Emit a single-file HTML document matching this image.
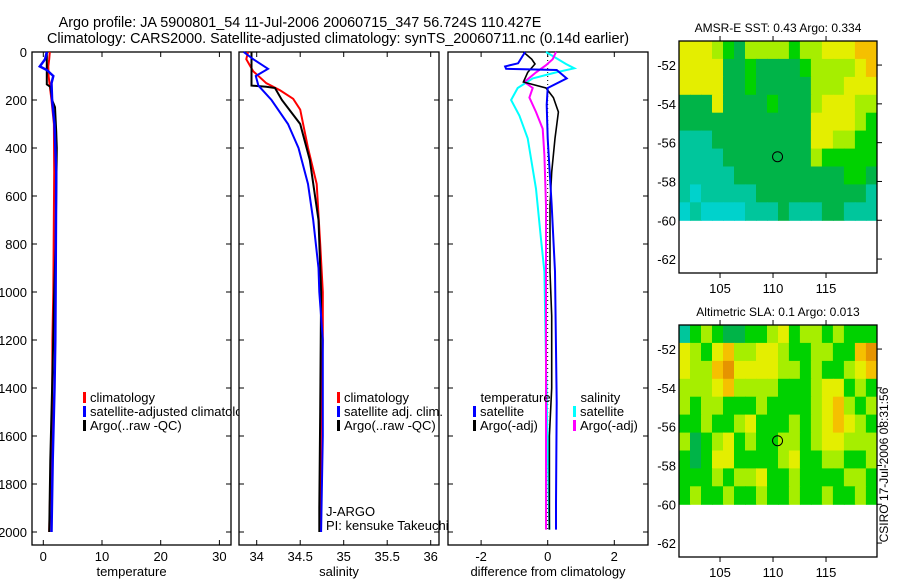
<!DOCTYPE html>
<html><head><meta charset="utf-8"><style>
body{margin:0;background:#fff}
svg{display:block;font-family:"Liberation Sans",sans-serif}
</style></head><body>
<svg id="c" width="900" height="580" viewBox="0 0 900 580">
<defs><clipPath id="clipT"><rect x="0" y="0" width="239" height="580"/></clipPath></defs>
<text x="300" y="27" font-size="14.4" text-anchor="middle">Argo profile: JA 5900801_54 11-Jul-2006 20060715_347 56.724S 110.427E</text>
<text x="338" y="43" font-size="14.4" text-anchor="middle">Climatology: CARS2000. Satellite-adjusted climatology: synTS_20060711.nc (0.14d earlier)</text>
<text x="888" y="465" font-size="12" text-anchor="middle" transform="rotate(-90 888 465)">CSIRO 17-Jul-2006 08:31:56</text>
</svg>
<script>
// ---- profile data ----
const tClimD=[0,30,60,100,200,300,500,1000,1200,1500,2000];
const tClimV=[1.1,1.0,0.85,0.9,1.4,1.8,1.85,1.7,1.55,1.5,1.0];
const tSatD=[0,30,60,75,100,130,200,300,500,1000,1200,1400,1700,2000];
const tSatV=[0.6,0.3,-0.6,0.6,1.7,1.4,1.5,1.9,2.2,2.1,2.05,1.9,1.6,1.4];
const tArgD=[0,135,145,200,230,330,400,800,1000,1300,1500,1700,2000];
const tArgV=[0.6,0.6,1.2,1.5,2.0,2.2,2.3,2.1,1.85,1.6,1.4,1.2,1.0];
const sClimD=[0,30,80,130,160,195,240,400,550,800,1000,1200,1500,2000];
const sClimV=[33.90,33.88,33.96,34.11,34.27,34.42,34.50,34.59,34.69,34.73,34.76,34.76,34.74,34.73];
const sSatD=[0,30,70,100,140,200,300,400,550,700,900,1000,1200,1600,2000];
const sSatV=[33.85,33.96,34.13,33.99,34.02,34.17,34.36,34.48,34.59,34.65,34.71,34.72,34.76,34.76,34.74];
const sArgD=[0,140,145,150,200,300,450,700,1000,1500,1900,2000];
const sArgV=[33.94,33.94,34.11,34.21,34.29,34.50,34.61,34.71,34.74,34.73,34.72,34.72];
const dTSatD=[0,47,60,70,75,110,150,220,360,640,915,1460,1880,1990];
const dTSatV=[-0.68,-0.89,-1.28,-1.25,0.27,0.57,0.0,-0.03,0.0,0.12,0.22,0.27,0.25,0.25];
const dTArgD=[0,30,50,85,125,150,190,250,360,500,640,915,1100,1400,1600,1990];
const dTArgV=[-0.73,-0.48,-0.38,-0.6,-0.73,-0.05,0.17,0.32,0.22,0.12,0.07,0.07,0.12,0.12,0.05,0.05];
const dSSatD=[0,50,68,85,110,150,200,265,360,570,780,915,1300,1990];
const dSSatV=[-0.05,0.55,0.8,0.25,-0.45,-0.9,-1.1,-0.85,-0.6,-0.35,-0.2,-0.1,-0.05,0.05];
const dSArgD=[0,30,55,85,125,150,190,250,320,430,640,1990];
const dSArgV=[0.25,0.15,-0.05,-0.35,-0.7,-0.45,-0.55,-0.35,-0.15,-0.1,-0.05,-0.05];
const depthTicks=[0,200,400,600,800,1000,1200,1400,1600,1800,2000];
const tTicks=[0,10,20,30];
const sTicks=[34,34.5,35,35.5,36];
const sTickLabels=["34","34.5","35","35.5","36"];
const dTicks=[-2,0,2];
// ---- map data ----
const lonTicks=[105,110,115];
const latTicks=[-52,-54,-56,-58,-60,-62];
const sstGrid=[
"555432444434455566","555522322223444456","555522322222444555","222522223222455544",
"222222222222555543","111222222222554433","111122222222433333","111112222222222332",
"101111122222222221","010000111211122111"];
const slaGrid=[
"134322334534434333","543564455433443367","544675555443433456","444564444333455343",
"434433343333456434","334334533343456543","423453433443455444","323553333453344334",
"333434453343333443","343343343343343343"];
const palette=['#00d2cc','#00c69c','#00b448','#00d200','#a6ee00','#e4ee00','#f5c000','#e69400'];
const argoLon=110.427, argoLat=-56.724;

const svg=document.getElementById('c');
const NS='http://www.w3.org/2000/svg';
function mk(tag,attrs,parent){const e=document.createElementNS(NS,tag);for(const k in attrs)e.setAttribute(k,attrs[k]);(parent||svg).appendChild(e);return e;}
const yD=d=>52+d*0.24;
const panels=[
 {x0:32,x1:231,x:v=>43.3+v*5.87,ticks:tTicks,labels:tTicks.map(String),title:'temperature',name:'temperature'},
 {x0:239,x1:439,x:v=>256.7+(v-34)*87,ticks:sTicks,labels:sTickLabels,title:'salinity',name:'salinity'},
 {x0:448,x1:648,x:v=>547.7+v*33.3,ticks:dTicks,labels:dTicks.map(String),title:'difference from climatology',name:'difference'}
];
const pTop=52,pBot=545;
panels.forEach((p,i)=>{
  const g=mk('g',{});
  
  
  const r=mk('rect',{x:p.x0,y:pTop,width:p.x1-p.x0,height:pBot-pTop,fill:'none',stroke:'#000','stroke-width':1.3},g);
  
  
  p.ticks.forEach((t,j)=>{
    const x=p.x(t);
    mk('line',{x1:x,x2:x,y1:pTop,y2:pTop+5,stroke:'#000'},g);
    mk('line',{x1:x,x2:x,y1:pBot,y2:pBot-5,stroke:'#000'},g);
    const tx=mk('text',{x:x,y:pBot+16,'font-size':13,'text-anchor':'middle'},g);
    tx.textContent=p.labels[j];
    
    
  });
  depthTicks.forEach(d=>{
    const y=yD(d);
    mk('line',{x1:p.x0,x2:p.x0+5,y1:y,y2:y,stroke:'#000'},g);
    mk('line',{x1:p.x1,x2:p.x1-5,y1:y,y2:y,stroke:'#000'},g);
    if(i===0){const tx=mk('text',{x:27,y:y+5,'font-size':13,'text-anchor':'end'},g);tx.textContent=String(d);
      
      }
  });
  const tt=mk('text',{x:(p.x0+p.x1)/2,y:pBot+31,'font-size':13,'text-anchor':'middle'},g);
  tt.textContent=p.title;
  
  
});
function line(p,D,V,color,w,name){
  const pts=D.map((d,k)=>p.x(V[k]).toFixed(1)+','+yD(d).toFixed(1)).join(' ');
  const e=mk('polyline',{points:pts,fill:'none',stroke:color,'stroke-width':w});
  
  
}
mk('line',{x1:panels[2].x(0),x2:panels[2].x(0),y1:yD(0),y2:yD(2000),stroke:'#000','stroke-dasharray':'1,3'});
line(panels[0],tClimD,tClimV,'#f00',2,'temp-climatology-line');
line(panels[0],tArgD,tArgV,'#000',2,'temp-argo-line');
line(panels[0],tSatD,tSatV,'#00f',2.5,'temp-satellite-line');
line(panels[1],sClimD,sClimV,'#f00',2,'sal-climatology-line');
line(panels[1],sArgD,sArgV,'#000',2,'sal-argo-line');
line(panels[1],sSatD,sSatV,'#00f',2,'sal-satellite-line');
line(panels[2],dSSatD,dSSatV,'#0ff',2,'diff-sal-satellite-line');
line(panels[2],dSArgD,dSArgV,'#f0f',2,'diff-sal-argo-line');
line(panels[2],dTArgD,dTArgV,'#000',1.6,'diff-temp-argo-line');
line(panels[2],dTSatD,dTSatV,'#00f',2,'diff-temp-satellite-line');
// legends
function leg(x,y,color,text,name,clip){
  if(color){const m=mk('rect',{x:x,y:y-10,width:3,height:11,fill:color});
    
    }
  const t=mk('text',{x:x+7,y:y,'font-size':13});t.textContent=text;
  if(clip)t.setAttribute('clip-path','url(#clipT)');
  
  
}
leg(83,402,'#f00','climatology','legend-temp-climatology');
leg(83,416,'#00f','satellite-adjusted climatology','legend-temp-satellite',true);
leg(83,430,'#000','Argo(..raw -QC)','legend-temp-argo');
leg(337,402,'#f00','climatology','legend-sal-climatology');
leg(337,416,'#00f','satellite adj. clim.','legend-sal-satellite');
leg(337,430,'#000','Argo(..raw -QC)','legend-sal-argo');
leg(473.5,402,null,'temperature','legend-diff-temp-header');
leg(473,416,'#00f','satellite','legend-diff-temp-satellite');
leg(473,430,'#000','Argo(-adj)','legend-diff-temp-argo');
leg(573.5,402,null,'salinity','legend-diff-sal-header');
leg(573,416,'#0ff','satellite','legend-diff-sal-satellite');
leg(573,430,'#f0f','Argo(-adj)','legend-diff-sal-argo');
leg(319,516,null,'J-ARGO','float-program-label');
leg(319,530,null,'PI: kensuke Takeuchi','float-pi-label');
// maps
const mX=lon=>679+(lon-101.13)*10.6;
function drawMap(y0,grid,title,name){
  const yL=lat=>y0+(-50.76-lat)*19.4;
  const g=mk('g',{});
  
  
  const rows=grid.length,cols=grid[0].length;
  const dLon=(119.8-101.13)/cols,dLat=(60-50.76)/rows;
  for(let r=0;r<rows;r++)for(let c=0;c<cols;c++){
    const lon=101.13+c*dLon,lat=-50.76-r*dLat;
    const x=mX(lon),y=yL(lat);
    const cell=mk('rect',{x:x.toFixed(1),y:y.toFixed(1),width:(mX(lon+dLon)-x+0.6).toFixed(1),height:(yL(lat-dLat)-y+0.6).toFixed(1),fill:palette[+grid[r][c]]},g);
    
    
  }
  mk('rect',{x:679,y:y0,width:198,height:232,fill:'none',stroke:'#000','stroke-width':1.3},g);
  lonTicks.forEach(l=>{const x=mX(l);
    mk('line',{x1:x,x2:x,y1:y0,y2:y0-5,stroke:'#000'},g);
    mk('line',{x1:x,x2:x,y1:y0+232,y2:y0+237,stroke:'#000'},g);
    const t=mk('text',{x:x,y:y0+252,'font-size':13,'text-anchor':'middle'},g);t.textContent=String(l);
    
    });
  latTicks.forEach(l=>{const y=yL(l);
    mk('line',{x1:877,x2:882,y1:y,y2:y,stroke:'#000'},g);
    const t=mk('text',{x:676,y:y+5,'font-size':13,'text-anchor':'end'},g);t.textContent=String(l);
    
    });
  const c=mk('circle',{cx:mX(argoLon),cy:yL(argoLat),r:5,fill:'none',stroke:'#000','stroke-width':1},g);
  
  
  const t=mk('text',{x:778,y:y0-9,'font-size':12,'text-anchor':'middle'},g);t.textContent=title;
  
  
}
drawMap(41,sstGrid,'AMSR-E SST: 0.43 Argo: 0.334','sst-map');
drawMap(325,slaGrid,'Altimetric SLA: 0.1 Argo: 0.013','sla-map');
</script>
</body></html>
